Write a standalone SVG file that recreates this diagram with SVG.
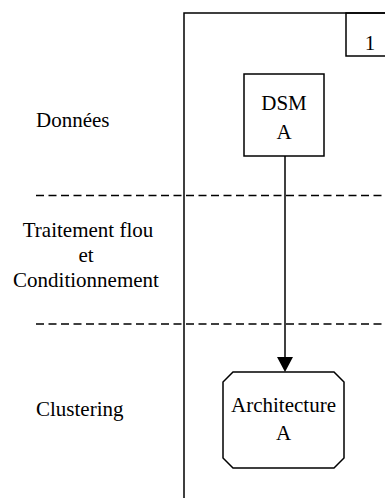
<svg xmlns="http://www.w3.org/2000/svg" width="385" height="498" viewBox="0 0 385 498">
<style>
text{font-family:"Liberation Serif","Times New Roman",serif;font-size:21px;fill:#000}
.c{text-anchor:middle}
.ln{fill:none;stroke:#000;stroke-width:1.5}
.dash{fill:none;stroke:#000;stroke-width:1.5;stroke-dasharray:8 4.5}
</style>
<rect width="385" height="498" fill="#fff"/>
<g id="frame">
<path class="ln" d="M184,499 V13 H390"/>
</g>
<g id="label-1">
<rect class="ln" x="346" y="13" width="44" height="43"/>
<text class="c" x="370" y="50">1</text>
</g>
<g id="lanes">
<line class="dash" x1="36" y1="195.5" x2="385" y2="195.5"/>
<line class="dash" x1="36" y1="324" x2="385" y2="324"/>
<text x="36" y="127">Données</text>
<text class="c" x="88" y="237">Traitement flou</text>
<text class="c" x="86" y="262">et</text>
<text class="c" x="86" y="287">Conditionnement</text>
<text x="36" y="416">Clustering</text>
</g>
<g id="dsm">
<rect class="ln" x="244" y="74" width="80" height="82"/>
<text class="c" x="284" y="110">DSM</text>
<text class="c" x="284" y="139">A</text>
</g>
<g id="architecture">
<polygon class="ln" points="233,372 334,372 344,382 344,458 334,468 233,468 223,458 223,382"/>
<text class="c" x="283.5" y="412">Architecture</text>
<text class="c" x="283.5" y="440">A</text>
</g>
<g id="connectors">
<line class="ln" x1="285" y1="156" x2="285" y2="358"/>
<polygon points="277,357 293,357 285,372" fill="#000"/>
</g>
</svg>
